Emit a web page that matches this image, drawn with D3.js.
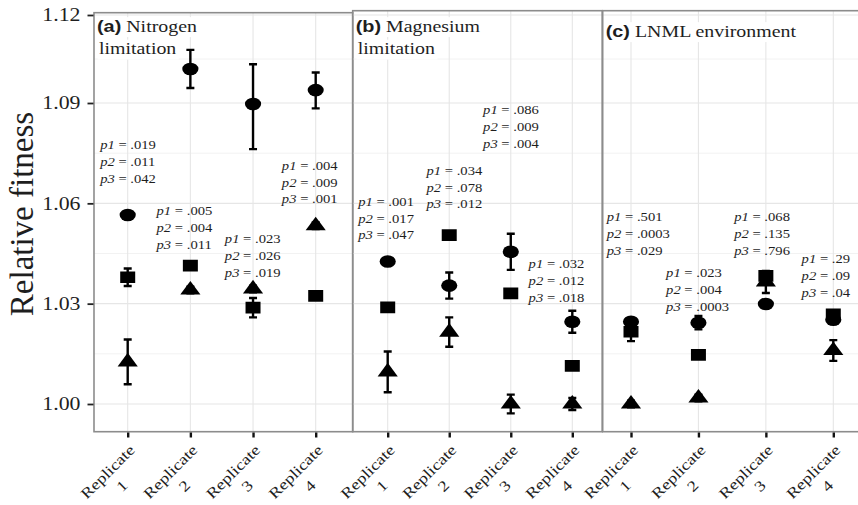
<!DOCTYPE html>
<html>
<head>
<meta charset="utf-8">
<script src="https://cdn.jsdelivr.net/npm/d3@7"></script>
<style>
  body { margin: 0; background: #fff; }
  text { font-family: "Liberation Serif", "Times New Roman", serif; fill: #1e1e1e; }
</style>
</head>
<body>
<svg id="chart" width="858" height="505"></svg>
<script>
// Relative fitness of the evolved lines, per replicate, in three environments.

const panelTags = ["(a)", "(b)", "(c)"];
const panelNames = [["Nitrogen", "limitation"], ["Magnesium", "limitation"], ["LNML environment"]];
const replicates = [1, 2, 3, 4];
const replicateWord = "Replicate";
const yTicks = [1.00, 1.03, 1.06, 1.09, 1.12];
const yMinor = [1.015, 1.045, 1.075, 1.105];

// Means (rows: panel a, b, c; columns: replicates 1-4) and ± error, one pair per marker
const circleMean = [
  [1.0565, 1.1016, 1.0897, 1.0944],
  [1.0426, 1.0354, 1.0455, 1.0246],
  [1.0246, 1.0243, 1.0299, 1.0252]
];
const circleErr = [
  [0.001, 0.0065, 0.0135, 0.006],
  [0.001, 0.0039, 0.0054, 0.0033],
  [0.001, 0.002, 0.001, 0.001]
];
const squareMean = [
  [1.0379, 1.0414, 1.0288, 1.0323],
  [1.0289, 1.0505, 1.0331, 1.0114],
  [1.0216, 1.0147, 1.0383, 1.0268]
];
const squareErr = [
  [0.0026, 0.001, 0.0029, 0.001],
  [0.001, 0.001, 0.001, 0.001],
  [0.0028, 0.001, 0.001, 0.001]
];
const triangleMean = [
  [1.0126, 1.0341, 1.0344, 1.0533],
  [1.0096, 1.0215, 1.0000, 1.0000],
  [1.0000, 1.0018, 1.0365, 1.0160]
];
const triangleErr = [
  [0.0067, 0.001, 0.001, 0.001],
  [0.0061, 0.0044, 0.0028, 0.0018],
  [0.001, 0.001, 0.0033, 0.0031]
];

// p-values printed beside each replicate
const pValues = [
  [[".019", ".011", ".042"], [".005", ".004", ".011"], [".023", ".026", ".019"], [".004", ".009", ".001"]],
  [[".001", ".017", ".047"], [".034", ".078", ".012"], [".086", ".009", ".004"], [".032", ".012", ".018"]],
  [[".501", ".0003", ".029"], [".023", ".004", ".0003"], [".068", ".135", ".796"], [".29", ".09", ".04"]]
];
// Label anchors in data units: replicate position of the left edge, fitness of the first line
const pLabelX = [[0.56, 1.46, 2.55, 3.46], [0.52, 1.63, 2.55, 3.29], [0.64, 1.52, 2.53, 3.53]];
const pLabelY = [[1.0775, 1.0577, 1.0493, 1.0713], [1.0605, 1.0698, 1.0879, 1.0418], [1.0560, 1.0391, 1.0560, 1.0433]];

// ---- layout ----
const SX = 1.22;                // horizontal text stretch
const SERIF = "'Liberation Serif', 'Times New Roman', serif";
const panelTop = [12.7, 10.7, 10.7];
const panelBottom = 431.7;
const panels = [
  { x0: 94,    x1: 352.7, first: 127.7, last: 315.7 },
  { x0: 352.7, x1: 602.2, first: 387.7, last: 572.3 },
  { x0: 602.7, x1: 880,   first: 631,   last: 833.3 }
];

const svg = d3.select("#chart");
svg.append("rect").attr("width", 858).attr("height", 505).attr("fill", "#fff");

const y = d3.scaleLinear().domain([1.00, 1.09, 1.12]).range([404, 103, 15]);

const symCircle = d3.symbol().type(d3.symbolCircle).size(205)();
const symSquare = d3.symbol().type(d3.symbolSquare).size(225)();
const symTriangle = d3.symbol().type(d3.symbolTriangle).size(176)();

const series = [
  { mean: triangleMean, err: triangleErr, path: symTriangle },
  { mean: squareMean, err: squareErr, path: symSquare },
  { mean: circleMean, err: circleErr, path: symCircle }
];

panels.forEach((p, pi) => {
  const x = d3.scaleLinear().domain([1, 4]).range([p.first, p.last]);
  const top = panelTop[pi];
  const g = svg.append("g");

  const clipId = "clip" + pi;
  svg.append("clipPath").attr("id", clipId)
    .append("rect").attr("x", p.x0).attr("y", top)
    .attr("width", p.x1 - p.x0).attr("height", panelBottom - top);
  const inner = g.append("g").attr("clip-path", `url(#${clipId})`);

  // grid
  inner.selectAll(".minor").data(yMinor).join("line")
    .attr("x1", p.x0).attr("x2", p.x1)
    .attr("y1", d => y(d)).attr("y2", d => y(d))
    .attr("stroke", "#f2f2f2").attr("stroke-width", 1);
  inner.selectAll(".major").data(yTicks).join("line")
    .attr("x1", p.x0).attr("x2", p.x1)
    .attr("y1", d => y(d)).attr("y2", d => y(d))
    .attr("stroke", "#e6e6e6").attr("stroke-width", 1.1);
  inner.selectAll(".vgrid").data(replicates).join("line")
    .attr("x1", d => x(d)).attr("x2", d => x(d))
    .attr("y1", top).attr("y2", panelBottom)
    .attr("stroke", "#e6e6e6").attr("stroke-width", 1.1);

  // panel title with a white backing behind each line
  const titleBase = pi === 2 ? 36.5 : 31.5;
  const lines = panelNames[pi];
  lines.forEach((line, li) => {
    const tg = inner.append("g")
      .attr("transform", `translate(${p.x0 + (li === 0 ? 3 : 5)},${titleBase + li * 22.5}) scale(${SX},1)`);
    const bg = tg.append("rect").attr("fill", "#fff");
    const t = tg.append("text").attr("font-size", 16.3).attr("font-family", SERIF);
    if (li === 0) {
      t.append("tspan").attr("font-family", "'Liberation Sans', Arial, sans-serif")
        .attr("font-weight", "bold").text(panelTags[pi]);
      t.append("tspan").text(" " + line);
    } else {
      t.text(line);
    }
    const bb = t.node().getBBox();
    bg.attr("x", bb.x - 1).attr("y", bb.y).attr("width", bb.width + 3).attr("height", bb.height + 2);
  });

  // p-value labels
  pValues[pi].forEach((vals, ri) => {
    vals.forEach((v, k) => {
      const t = inner.append("text")
        .attr("transform", `translate(${x(pLabelX[pi][ri])},${y(pLabelY[pi][ri]) + k * 16.8}) scale(${SX},1)`)
        .attr("dy", "0.35em")
        .attr("font-family", SERIF)
        .attr("font-size", 12);
      t.append("tspan").attr("font-style", "italic").text("p" + (k + 1));
      t.append("tspan").text(" = " + v);
    });
  });

  // error bars and markers
  series.forEach(s => {
    const pts = replicates.map((r, ri) => ({ r, m: s.mean[pi][ri], e: s.err[pi][ri] }));
    const eb = inner.append("g").attr("stroke", "#000").attr("stroke-width", 2.4);
    pts.forEach(d => {
      const cx = x(d.r), yt = y(d.m + d.e), yb = y(d.m - d.e);
      eb.append("line").attr("x1", cx).attr("x2", cx).attr("y1", yt).attr("y2", yb);
      eb.append("line").attr("x1", cx - 4).attr("x2", cx + 4).attr("y1", yt).attr("y2", yt);
      eb.append("line").attr("x1", cx - 4).attr("x2", cx + 4).attr("y1", yb).attr("y2", yb);
    });
    inner.append("g").selectAll("path").data(pts).join("path")
      .attr("d", s.path)
      .attr("fill", "#000")
      .attr("transform", d => `translate(${x(d.r)},${y(d.m)}) scale(1,0.78)`);
  });

  // border
  g.append("rect")
    .attr("x", p.x0).attr("y", top)
    .attr("width", p.x1 - p.x0).attr("height", panelBottom - top)
    .attr("fill", "none").attr("stroke", "#8c8c8c").attr("stroke-width", 1.6);

  // x axis ticks
  const ax = svg.append("g").attr("transform", `translate(0,${panelBottom + 0.8})`)
    .call(d3.axisBottom(x).tickValues(replicates).tickSize(5).tickFormat(""));
  ax.select(".domain").remove();
  ax.selectAll(".tick line").attr("stroke", "#111").attr("stroke-width", 2.4);

  // rotated two-line replicate labels
  replicates.forEach(r => {
    const lg = svg.append("g")
      .attr("transform", `translate(${x(r) + 8},451) rotate(-45) scale(1.22,1)`);
    const t1 = lg.append("text").attr("text-anchor", "end").attr("font-size", 15)
      .attr("font-family", SERIF).text(replicateWord);
    const L = t1.node().getComputedTextLength();
    lg.append("text").attr("text-anchor", "middle").attr("font-size", 15)
      .attr("font-family", SERIF)
      .attr("x", -L / 2).attr("y", 20).text(r);
  });
});

// y axis
const ay = svg.append("g").attr("transform", "translate(93.5,0)")
  .call(d3.axisLeft(y).tickValues(yTicks).tickSize(6).tickFormat(d3.format(".2f")));
ay.select(".domain").remove();
ay.selectAll(".tick line").attr("stroke", "#222").attr("stroke-width", 1.8);
ay.selectAll(".tick text")
  .attr("x", null)
  .attr("transform", `translate(-13,0) scale(1.18,1)`)
  .attr("font-size", 18.5)
  .attr("font-family", SERIF)
  .attr("fill", "#2b2b2b");

// y axis title
svg.append("text")
  .attr("transform", "translate(33,214) rotate(-90)")
  .attr("text-anchor", "middle")
  .attr("font-size", 33)
  .attr("font-family", SERIF)
  .text("Relative fitness");
</script>
</body>
</html>
